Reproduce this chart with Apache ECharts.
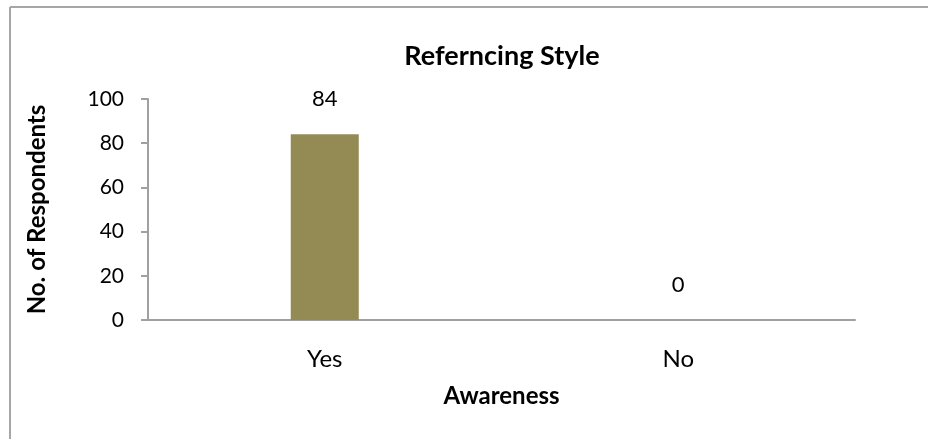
<!DOCTYPE html>
<html>
<head>
<meta charset="utf-8">
<script src="https://cdn.jsdelivr.net/npm/echarts@6/dist/echarts.min.js"></script>
<style>
  html, body { margin: 0; padding: 0; background: #fff; }
  #chart { width: 928px; height: 439px; }
</style>
</head>
<body>
<div id="chart"></div>
<script>
// Survey results: awareness of referencing style
const categories = ['Yes', 'No'];
const respondents = [84, 0];
const yTicks = { min: 0, max: 100, interval: 20 };

const font = 'Lato, "Open Sans", sans-serif';
const chart = echarts.init(document.getElementById('chart'));

chart.setOption({
  animation: false,
  backgroundColor: '#ffffff',
  title: {
    text: 'Referncing Style',
    left: 497,
    top: 38,
    textAlign: 'center',
    textStyle: { fontFamily: font, fontWeight: 'bold', fontSize: 27, color: '#000' }
  },
  graphic: [
    { type: 'line', shape: { x1: 10, y1: 7, x2: 928, y2: 7 }, style: { stroke: '#a6a6a6', lineWidth: 2 } },
    { type: 'line', shape: { x1: 10, y1: 7, x2: 10, y2: 439 }, style: { stroke: '#a6a6a6', lineWidth: 2 } }
  ],
  grid: { left: 148, top: 99, width: 707, height: 221, containLabel: false },
  xAxis: {
    type: 'category',
    data: categories,
    name: 'Awareness',
    nameLocation: 'middle',
    nameGap: 64,
    nameTextStyle: { fontFamily: font, fontWeight: 'bold', fontSize: 24, color: '#000' },
    axisLine: { lineStyle: { color: '#a0a0a0', width: 2 } },
    axisTick: { show: false },
    axisLabel: { fontFamily: font, fontSize: 24, color: '#000', margin: 27 }
  },
  yAxis: {
    type: 'value',
    min: yTicks.min,
    max: yTicks.max,
    interval: yTicks.interval,
    name: 'No. of Respondents',
    nameLocation: 'middle',
    nameGap: 99,
    nameRotate: 90,
    nameTextStyle: { fontFamily: font, fontWeight: 'bold', fontSize: 24, color: '#000' },
    axisLine: { show: true, lineStyle: { color: '#a0a0a0', width: 2 } },
    axisTick: { show: true, inside: false, length: 7, lineStyle: { color: '#a0a0a0', width: 2 } },
    axisLabel: { fontFamily: font, fontSize: 21, color: '#000', margin: 24 },
    splitLine: { show: false }
  },
  series: [{
    type: 'bar',
    data: respondents,
    barWidth: 68,
    itemStyle: { color: '#948a54' },
    label: {
      show: true,
      position: 'top',
      distance: 24,
      fontFamily: font,
      fontSize: 22,
      color: '#000'
    }
  }]
});
</script>
</body>
</html>
